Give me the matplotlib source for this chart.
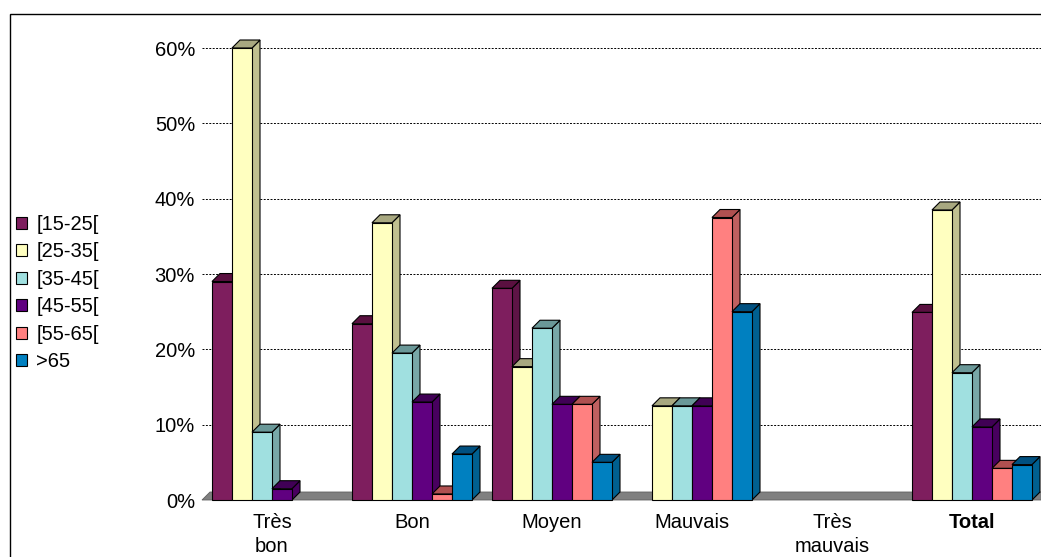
import matplotlib.pyplot as plt
import numpy as np
from matplotlib.patches import Polygon, Rectangle
from matplotlib.ticker import FuncFormatter

plt.rcParams['font.family'] = ['Liberation Sans', 'DejaVu Sans']

categories = ["Très\nbon", "Bon", "Moyen", "Mauvais", "Très\nmauvais", "Total"]
series = ["[15-25[", "[25-35[", "[35-45[", "[45-55[", "[55-65[", ">65"]
values = {
    "[15-25[": [29.0, 23.4, 28.1, 0.0, 0.0, 24.9],
    "[25-35[": [60.0, 36.8, 17.7, 12.5, 0.0, 38.5],
    "[35-45[": [9.0, 19.5, 22.8, 12.5, 0.0, 16.9],
    "[45-55[": [1.5, 13.0, 12.7, 12.5, 0.0, 9.7],
    "[55-65[": [0.0, 0.8, 12.7, 37.5, 0.0, 4.2],
    ">65": [0.0, 6.1, 5.0, 25.0, 0.0, 4.7],
}
# front, side, top colours
colors = {
    "[15-25[": ("#7e1e5e", "#5e1446", "#5a1040"),
    "[25-35[": ("#ffffc0", "#c0c090", "#a8a880"),
    "[35-45[": ("#a0e0e0", "#78a8a8", "#6a9898"),
    "[45-55[": ("#600080", "#48005f", "#400055"),
    "[55-65[": ("#ff8080", "#bf6060", "#b05050"),
    ">65": ("#0080c0", "#006090", "#005080"),
}

fs = 14.5

fig = plt.figure(figsize=(10.41, 5.57), dpi=100)
ax = fig.add_axes([202 / 1041, 57 / 557, 840 / 1041, 452 / 557])
ax.set_xlim(-0.5, 5.5)
ax.set_ylim(0, 60)

w = 1 / 7  # bar width in group units
dx = 8 / 140
dy = 8 / (452 / 60)

# floor
floor = Polygon([(-0.5, 0), (5.5, 0), (5.5 + dx, dy), (-0.5 + dx, dy)],
                closed=True, facecolor="#808080", edgecolor="#606060",
                lw=0.6, zorder=1, clip_on=False)
ax.add_patch(floor)

x = np.arange(len(categories))
for i, s in enumerate(series):
    front, side, top = colors[s]
    for j, v in enumerate(values[s]):
        if v <= 0:
            continue
        x0 = x[j] - 3 * w + i * w
        z = 2 + i * 0.1 + j
        ax.add_patch(Polygon([(x0 + w, 0), (x0 + w + dx, dy), (x0 + w + dx, v + dy), (x0 + w, v)],
                             closed=True, facecolor=side, edgecolor="black", lw=0.8,
                             zorder=z, clip_on=False))
        ax.add_patch(Polygon([(x0, v), (x0 + dx, v + dy), (x0 + w + dx, v + dy), (x0 + w, v)],
                             closed=True, facecolor=top, edgecolor="black", lw=0.8,
                             zorder=z, clip_on=False))
        ax.add_patch(Rectangle((x0, 0), w, v, facecolor=front, edgecolor="black",
                               lw=0.8, zorder=z + 0.05, clip_on=False))

ax.set_yticks(np.arange(0, 61, 10))
ax.yaxis.set_major_formatter(FuncFormatter(lambda v, p: f"{int(v)}%"))
ax.grid(axis="y", color="black", linestyle=(0, (2, 1.5)), lw=0.7, zorder=0)
ax.set_xticks(x)
ax.set_xticklabels(categories, linespacing=1.4)
ax.get_xticklabels()[-1].set_fontweight("bold")
ax.tick_params(axis="both", length=0, labelsize=fs)
ax.tick_params(axis="y", pad=5)
ax.tick_params(axis="x", pad=9)
for sp in ax.spines.values():
    sp.set_visible(False)

handles = [Rectangle((0, 0), 1, 1, facecolor=colors[s][0], edgecolor="black", lw=0.8)
           for s in series]
fig.legend(handles, series, loc="upper left", bbox_to_anchor=(16 / 1041, 1 - 215 / 557),
           frameon=False, fontsize=fs, handlelength=0.55, handleheight=0.55,
           handletextpad=0.45, labelspacing=0.42, borderaxespad=0, borderpad=0)

# outer frame
fig.add_artist(Rectangle((10 / 1041, -0.1), 1.2, 1 - 14 / 557 + 0.1, transform=fig.transFigure,
                         fill=False, edgecolor="black", lw=1))

fig.savefig("out.png", dpi=100)
